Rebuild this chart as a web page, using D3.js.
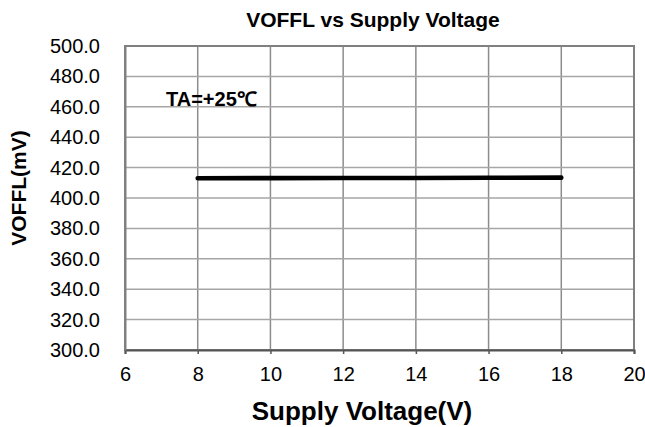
<!DOCTYPE html>
<html>
<head>
<meta charset="utf-8">
<script src="https://cdn.jsdelivr.net/npm/d3@7"></script>
<style>
  body { margin: 0; background: #fff; }
  svg { font-family: 'Liberation Sans', Arial, sans-serif; }
</style>
</head>
<body>
<svg width="645" height="427"></svg>
<script>
const supplyVoltage = [8, 10, 12, 14, 16, 18];
const voffl = [413.0, 413.1, 413.2, 413.2, 413.3, 413.4];
const xTicks = [6, 8, 10, 12, 14, 16, 18, 20];
const yTicks = [300, 320, 340, 360, 380, 400, 420, 440, 460, 480, 500];

const w = 645;
const h = 427;
const plotLeft = 125, plotRight = 634, plotTop = 46, plotBottom = 350;

const svg = d3.select('svg');

const xScale = d3.scaleLinear().domain([6, 20]).range([plotLeft, plotRight]);
const yScale = d3.scaleLinear().domain([300, 500]).range([plotBottom, plotTop]);

// grid
svg.append('g')
  .selectAll('line')
  .data(xTicks)
  .enter()
  .append('line')
  .attr('x1', (d) => xScale(d))
  .attr('x2', (d) => xScale(d))
  .attr('y1', plotTop)
  .attr('y2', plotBottom)
  .attr('stroke', '#8c8c8c')
  .attr('stroke-width', 1.5);

svg.append('g')
  .selectAll('line')
  .data(yTicks)
  .enter()
  .append('line')
  .attr('x1', plotLeft)
  .attr('x2', plotRight)
  .attr('y1', (d) => yScale(d))
  .attr('y2', (d) => yScale(d))
  .attr('stroke', '#a6a6a6')
  .attr('stroke-width', 1.5);

// frame
svg.append('rect')
  .attr('x', plotLeft)
  .attr('y', plotTop)
  .attr('width', plotRight - plotLeft)
  .attr('height', plotBottom - plotTop)
  .attr('fill', 'none')
  .attr('stroke', '#808080')
  .attr('stroke-width', 2);

// axes
const xAxis = d3.axisBottom(xScale).tickValues(xTicks).tickSize(4).tickPadding(13);
svg.append('g')
  .attr('transform', `translate(0, ${plotBottom})`)
  .call(xAxis)
  .call((g) => g.select('.domain').attr('stroke', '#555').attr('stroke-width', 2))
  .call((g) => g.selectAll('.tick line').attr('stroke', '#555').attr('stroke-width', 1.5))
  .call((g) => g.selectAll('text').attr('font-size', 20).attr('fill', '#000')
    .attr('font-family', "'Liberation Sans', Arial, sans-serif"));

const yAxis = d3.axisLeft(yScale).tickValues(yTicks).tickSize(0).tickPadding(25)
  .tickFormat(d3.format('.1f'));
svg.append('g')
  .attr('transform', `translate(${plotLeft}, 0)`)
  .call(yAxis)
  .call((g) => g.select('.domain').attr('stroke', '#808080').attr('stroke-width', 2))
  .call((g) => g.selectAll('text').attr('font-size', 20).attr('fill', '#000')
    .attr('font-family', "'Liberation Sans', Arial, sans-serif"));

// data line
const line = d3.line()
  .x((d, i) => xScale(supplyVoltage[i]))
  .y((d) => yScale(d));

svg.append('path')
  .datum(voffl)
  .attr('d', line)
  .attr('fill', 'none')
  .attr('stroke', '#000')
  .attr('stroke-width', 4.6)
  .attr('stroke-linecap', 'round');

// texts
svg.append('text')
  .attr('x', 373)
  .attr('y', 27)
  .attr('text-anchor', 'middle')
  .attr('font-size', 21)
  .attr('font-weight', 'bold')
  .text('VOFFL vs Supply Voltage');

svg.append('text')
  .attr('x', 362)
  .attr('y', 420)
  .attr('text-anchor', 'middle')
  .attr('font-size', 26)
  .attr('font-weight', 'bold')
  .text('Supply Voltage(V)');

svg.append('text')
  .attr('transform', 'translate(26, 188) rotate(-90)')
  .attr('text-anchor', 'middle')
  .attr('font-size', 21)
  .attr('font-weight', 'bold')
  .text('VOFFL(mV)');

svg.append('text')
  .attr('x', 166)
  .attr('y', 106)
  .attr('font-size', 20)
  .attr('font-weight', 'bold')
  .text('TA=+25℃');
</script>
</body>
</html>
